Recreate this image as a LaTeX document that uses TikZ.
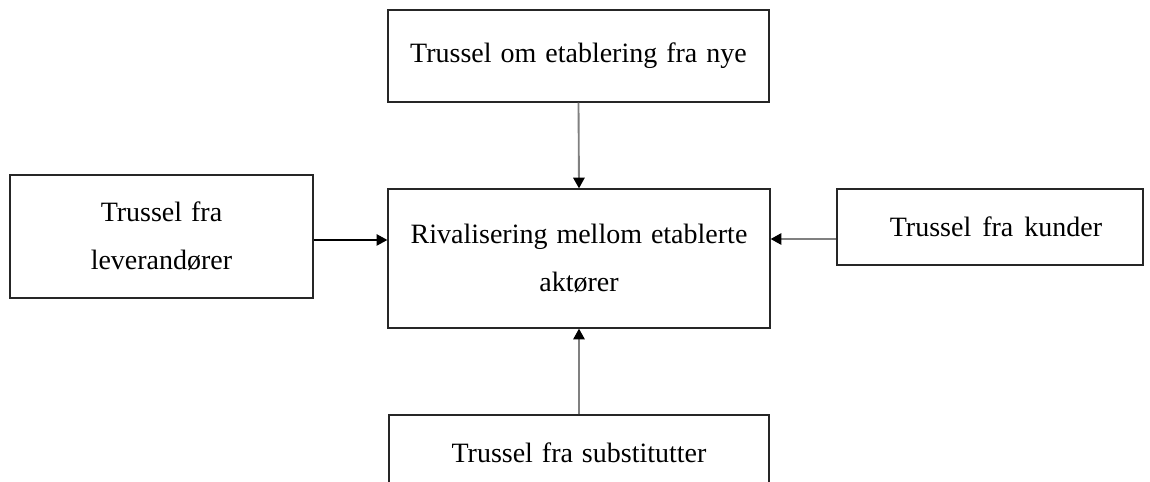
\documentclass[tikz,border=0pt]{standalone}
\usepackage{fontspec}
\setmainfont{Liberation Serif}
\usetikzlibrary{arrows.meta}
\newcommand\widespaces{\spaceskip=0.32em plus 0.1em\relax}
\begin{document}
\begin{tikzpicture}[x=0.75pt,y=-0.75pt,
  box/.style={draw=black!85,line width=1pt,fill=white,inner sep=0pt,align=center,
    font=\fontsize{21}{36}\selectfont},
  arr/.style={line width=1.4pt,-{Triangle[length=8pt,width=8.5pt,black]}},
  grayarr/.style={arr,draw=black!50}]
\useasboundingbox (0,0) rectangle (1150,482);
\clip (0,0) rectangle (1150,482);
\node[box,minimum width=285.75pt,minimum height=69pt] (top) at (578.5,56) {\widespaces\raisebox{-1.5pt}{Trussel om etablering fra nye}};
\node[box,minimum width=227.25pt,minimum height=92.25pt] (left) at (161.5,236.5) {\widespaces Trussel fra\\leverandører};
\node[box,minimum width=286.5pt,minimum height=104.25pt] (center) at (579,258.5) {\widespaces Rivalisering mellom etablerte\\aktører};
\node[box,minimum width=229.5pt,minimum height=57pt,text width=229.5pt] (right) at (990,227) {\widespaces\hspace*{9pt}Trussel fra kunder};
\node[box,minimum width=285pt,minimum height=57pt] (bottom) at (579,453) {\widespaces Trussel fra substitutter};
\draw[grayarr] (top.south) -- (center.north);
\path ([yshift=-2.6pt]left.east) coordinate (la);
\draw[arr,line width=0.9pt] (la) -- (la -| center.west);
\path ([yshift=-9pt]right.west) coordinate (ra);
\draw[grayarr] (ra) -- (ra -| center.east);
\draw[grayarr] (bottom.north) -- (center.south);
\end{tikzpicture}
\end{document}
